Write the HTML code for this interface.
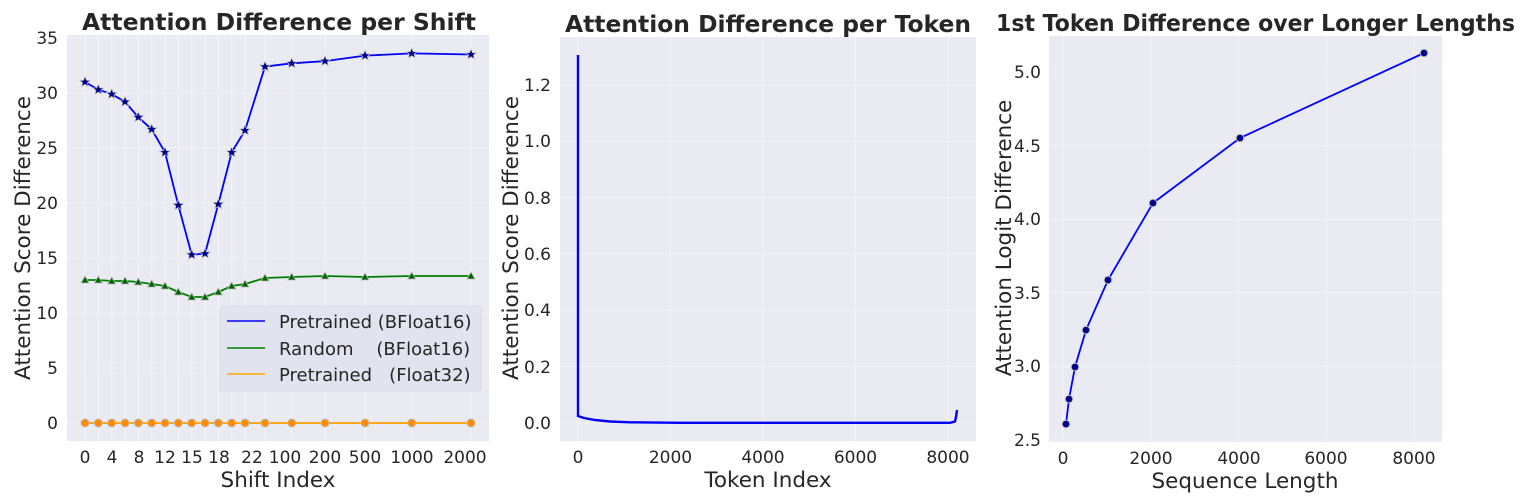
<!DOCTYPE html>
<html><head><meta charset="utf-8"><style>
html,body{margin:0;padding:0;background:#fff;}
svg{display:block;font-family:"DejaVu Sans","Liberation Sans",sans-serif;}
.t{font-size:17px;fill:#262626;}
.al{font-size:21.5px;fill:#262626;}
.ti{font-size:23.5px;font-weight:bold;fill:#262626;}
.g{stroke:#fff;stroke-width:0.8;opacity:0.6;}
</style></head><body>
<svg width="1538" height="503" viewBox="0 0 1538 503" xmlns="http://www.w3.org/2000/svg">
<defs>
<path id="star" d="M0,-5.5 L1.6,-1.8 L5.5,-1.7 L2.5,0.8 L3.4,4.6 L0,2.4 L-3.4,4.6 L-2.5,0.8 L-5.5,-1.7 L-1.6,-1.8 Z"/>
</defs>
<!-- Panel 1 -->
<rect x="67" y="35" width="422" height="406" fill="#eaeaf2"/>
<g class="g">
<line x1="67" x2="489" y1="423" y2="423"/><line x1="67" x2="489" y1="368" y2="368"/><line x1="67" x2="489" y1="313" y2="313"/><line x1="67" x2="489" y1="258" y2="258"/><line x1="67" x2="489" y1="203" y2="203"/><line x1="67" x2="489" y1="148" y2="148"/><line x1="67" x2="489" y1="93" y2="93"/><line x1="67" x2="489" y1="38" y2="38"/>
<line x1="85" x2="85" y1="35" y2="441"/><line x1="98.3" x2="98.3" y1="35" y2="441"/><line x1="111.7" x2="111.7" y1="35" y2="441"/><line x1="125" x2="125" y1="35" y2="441"/><line x1="138.3" x2="138.3" y1="35" y2="441"/><line x1="151.7" x2="151.7" y1="35" y2="441"/><line x1="165" x2="165" y1="35" y2="441"/><line x1="178.3" x2="178.3" y1="35" y2="441"/><line x1="191.7" x2="191.7" y1="35" y2="441"/><line x1="205" x2="205" y1="35" y2="441"/><line x1="218.3" x2="218.3" y1="35" y2="441"/><line x1="231.7" x2="231.7" y1="35" y2="441"/><line x1="245" x2="245" y1="35" y2="441"/><line x1="265" x2="265" y1="35" y2="441"/><line x1="291.7" x2="291.7" y1="35" y2="441"/><line x1="325" x2="325" y1="35" y2="441"/><line x1="365" x2="365" y1="35" y2="441"/><line x1="411.7" x2="411.7" y1="35" y2="441"/><line x1="471" x2="471" y1="35" y2="441"/>
</g>
<polyline fill="none" stroke="#ff9f00" stroke-width="1.8" points="85,423 471,423"/>
<g fill="#ff8c00" stroke="#bbb" stroke-width="1">
<circle cx="85" cy="423" r="4"/><circle cx="98.3" cy="423" r="4"/><circle cx="111.7" cy="423" r="4"/><circle cx="125" cy="423" r="4"/><circle cx="138.3" cy="423" r="4"/><circle cx="151.7" cy="423" r="4"/><circle cx="165" cy="423" r="4"/><circle cx="178.3" cy="423" r="4"/><circle cx="191.7" cy="423" r="4"/><circle cx="205" cy="423" r="4"/><circle cx="218.3" cy="423" r="4"/><circle cx="231.7" cy="423" r="4"/><circle cx="245" cy="423" r="4"/><circle cx="265" cy="423" r="4"/><circle cx="291.7" cy="423" r="4"/><circle cx="325" cy="423" r="4"/><circle cx="365" cy="423" r="4"/><circle cx="411.7" cy="423" r="4"/><circle cx="471" cy="423" r="4"/>
</g>
<polyline fill="none" stroke="#008000" stroke-width="1.8" points="85,280 98.3,280 111.7,281 125,281 138.3,282 151.7,284 165,286 178.3,292 191.7,297 205,297 218.3,292 231.7,286 245,284 265,278 291.7,277 325,276 365,277 411.7,276 471,276"/>
<polyline fill="none" stroke="#0000ff" stroke-width="1.8" points="85,82 98.3,89.7 111.7,94.1 125,101.8 138.3,117.2 151.7,129.3 165,152.4 178.3,205.2 191.7,254.7 205,253.6 218.3,204.1 231.7,152.4 245,130.4 265,66.6 291.7,63.3 325,61.1 365,55.6 411.7,53.4 471,54.5"/>
<g fill="#00008b" stroke="#ccc" stroke-width="0.8">
<use href="#star" x="85" y="82"/><use href="#star" x="98.3" y="89.7"/><use href="#star" x="111.7" y="94.1"/><use href="#star" x="125" y="101.8"/><use href="#star" x="138.3" y="117.2"/><use href="#star" x="151.7" y="129.3"/><use href="#star" x="165" y="152.4"/><use href="#star" x="178.3" y="205.2"/><use href="#star" x="191.7" y="254.7"/><use href="#star" x="205" y="253.6"/><use href="#star" x="218.3" y="204.1"/><use href="#star" x="231.7" y="152.4"/><use href="#star" x="245" y="130.4"/><use href="#star" x="265" y="66.6"/><use href="#star" x="291.7" y="63.3"/><use href="#star" x="325" y="61.1"/><use href="#star" x="365" y="55.6"/><use href="#star" x="411.7" y="53.4"/><use href="#star" x="471" y="54.5"/>
</g>
<g fill="#006400" stroke="#bbb" stroke-width="0.8">
<path d="M85,276l4,7h-8z"/><path d="M98.3,276l4,7h-8z"/><path d="M111.7,277l4,7h-8z"/><path d="M125,277l4,7h-8z"/><path d="M138.3,278l4,7h-8z"/><path d="M151.7,280l4,7h-8z"/><path d="M165,282l4,7h-8z"/><path d="M178.3,288l4,7h-8z"/><path d="M191.7,293l4,7h-8z"/><path d="M205,293l4,7h-8z"/><path d="M218.3,288l4,7h-8z"/><path d="M231.7,282l4,7h-8z"/><path d="M245,280l4,7h-8z"/><path d="M265,274l4,7h-8z"/><path d="M291.7,273l4,7h-8z"/><path d="M325,272l4,7h-8z"/><path d="M365,273l4,7h-8z"/><path d="M411.7,272l4,7h-8z"/><path d="M471,272l4,7h-8z"/>
</g>
<!-- legend -->
<rect x="220" y="306" width="261" height="85" rx="3" fill="#e1e4ee" stroke="#d8d8e0" stroke-width="0.8"/>
<line x1="227" x2="265" y1="321" y2="321" stroke="#0000ff" stroke-width="1.5"/>
<line x1="227" x2="265" y1="348" y2="348" stroke="#008000" stroke-width="1.5"/>
<line x1="227" x2="265" y1="374" y2="374" stroke="#ffa500" stroke-width="1.5"/>
<text class="t" x="279" y="328" style="font-size:18px" xml:space="preserve">Pretrained (BFloat16)</text>
<text class="t" x="279" y="355" style="font-size:18px" xml:space="preserve">Random    (BFloat16)</text>
<text class="t" x="279" y="381" style="font-size:18px" xml:space="preserve">Pretrained   (Float32)</text>
<g class="t" text-anchor="end">
<text x="58" y="429">0</text><text x="58" y="374">5</text><text x="58" y="319">10</text><text x="58" y="264">15</text><text x="58" y="209">20</text><text x="58" y="154">25</text><text x="58" y="99">30</text><text x="58" y="44">35</text>
</g>
<g class="t" text-anchor="middle">
<text x="85" y="463">0</text><text x="112" y="463">4</text><text x="139" y="463">8</text><text x="165" y="463">12</text><text x="192" y="463">15</text><text x="219" y="463">18</text><text x="252" y="463">22</text><text x="285" y="463">100</text><text x="325" y="463">200</text><text x="365" y="463">500</text><text x="412" y="463">1000</text><text x="465" y="463">2000</text>
</g>
<text class="al" x="278" y="487" text-anchor="middle">Shift Index</text>
<text class="al" transform="translate(30,238) rotate(-90)" text-anchor="middle">Attention Score Difference</text>
<text class="ti" x="82" y="30" textLength="394" lengthAdjust="spacingAndGlyphs">Attention Difference per Shift</text>

<!-- Panel 2 -->
<rect x="560" y="37" width="416" height="404" fill="#eaeaf2"/>
<g class="g">
<line x1="560" x2="976" y1="423" y2="423"/><line x1="560" x2="976" y1="366.7" y2="366.7"/><line x1="560" x2="976" y1="310.4" y2="310.4"/><line x1="560" x2="976" y1="254.1" y2="254.1"/><line x1="560" x2="976" y1="197.8" y2="197.8"/><line x1="560" x2="976" y1="141.5" y2="141.5"/><line x1="560" x2="976" y1="85.2" y2="85.2"/>
<line x1="578" x2="578" y1="37" y2="441"/><line x1="670.5" x2="670.5" y1="37" y2="441"/><line x1="763" x2="763" y1="37" y2="441"/><line x1="855.5" x2="855.5" y1="37" y2="441"/><line x1="948" x2="948" y1="37" y2="441"/>
</g>
<path d="M578,55 L578,416 L584,418 L595,420 L610,421.5 L630,422.3 L680,422.8 L950,422.8 L955,421.5 L956,417 L957,410" fill="none" stroke="#0000ff" stroke-width="2.4"/>
<g class="t" text-anchor="end">
<text x="551" y="429">0.0</text><text x="551" y="373">0.2</text><text x="551" y="316">0.4</text><text x="551" y="260">0.6</text><text x="551" y="204">0.8</text><text x="551" y="147">1.0</text><text x="551" y="91">1.2</text>
</g>
<g class="t" text-anchor="middle">
<text x="578" y="463">0</text><text x="670.5" y="463">2000</text><text x="763" y="463">4000</text><text x="855.5" y="463">6000</text><text x="948" y="463">8000</text>
</g>
<text class="al" x="768" y="487" text-anchor="middle">Token Index</text>
<text class="al" transform="translate(518,238) rotate(-90)" text-anchor="middle">Attention Score Difference</text>
<text class="ti" x="565" y="32" textLength="406" lengthAdjust="spacingAndGlyphs">Attention Difference per Token</text>

<!-- Panel 3 -->
<rect x="1049" y="36" width="393" height="406" fill="#eaeaf2"/>
<g class="g">
<line x1="1049" x2="1442" y1="440" y2="440"/><line x1="1049" x2="1442" y1="366.4" y2="366.4"/><line x1="1049" x2="1442" y1="292.8" y2="292.8"/><line x1="1049" x2="1442" y1="219.2" y2="219.2"/><line x1="1049" x2="1442" y1="145.6" y2="145.6"/><line x1="1049" x2="1442" y1="72" y2="72"/>
<line x1="1063" x2="1063" y1="36" y2="442"/><line x1="1150.75" x2="1150.75" y1="36" y2="442"/><line x1="1238.5" x2="1238.5" y1="36" y2="442"/><line x1="1326.25" x2="1326.25" y1="36" y2="442"/><line x1="1414" x2="1414" y1="36" y2="442"/>
</g>
<polyline fill="none" stroke="#0000ff" stroke-width="1.8" points="1066,424 1069,399 1075,367 1086,330 1108,280 1153,203 1240,138 1424,53"/>
<g fill="#00008b" stroke="#bbb" stroke-width="1">
<circle cx="1066" cy="424" r="3.8"/><circle cx="1069" cy="399" r="3.8"/><circle cx="1075" cy="367" r="3.8"/><circle cx="1086" cy="330" r="3.8"/><circle cx="1108" cy="280" r="3.8"/><circle cx="1153" cy="203" r="3.8"/><circle cx="1240" cy="138" r="3.8"/><circle cx="1424" cy="53" r="3.8"/>
</g>
<g class="t" text-anchor="end">
<text x="1041" y="446">2.5</text><text x="1041" y="372">3.0</text><text x="1041" y="299">3.5</text><text x="1041" y="225">4.0</text><text x="1041" y="152">4.5</text><text x="1041" y="78">5.0</text>
</g>
<g class="t" text-anchor="middle">
<text x="1063" y="464">0</text><text x="1151" y="464">2000</text><text x="1239" y="464">4000</text><text x="1326" y="464">6000</text><text x="1414" y="464">8000</text>
</g>
<text class="al" x="1245" y="488" text-anchor="middle">Sequence Length</text>
<text class="al" transform="translate(1011,238) rotate(-90)" text-anchor="middle">Attention Logit Difference</text>
<text class="ti" x="996" y="31" textLength="519" lengthAdjust="spacingAndGlyphs">1st Token Difference over Longer Lengths</text>
</svg>
</body></html>
